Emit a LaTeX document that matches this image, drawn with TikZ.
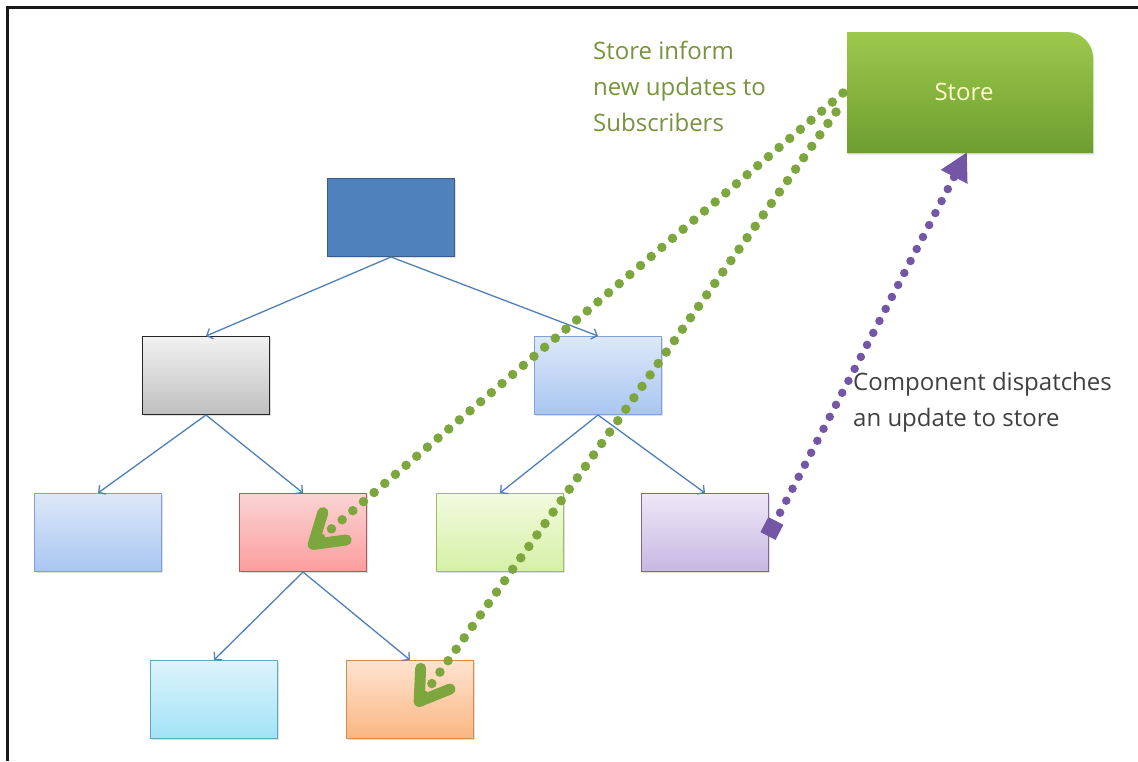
\documentclass[tikz,border=0pt]{standalone}
\usepackage{fontspec}
\setmainfont{Open Sans}
\usetikzlibrary{arrows.meta,shadows}
\definecolor{dkblue}{HTML}{4F81BD}
\definecolor{dkblueb}{HTML}{385D8A}
\definecolor{edgeblue}{HTML}{4F7FB8}
\definecolor{dotgreen}{HTML}{7DA63E}
\definecolor{dotpurple}{HTML}{7356A6}
\definecolor{txtgreen}{HTML}{77933C}
\definecolor{txtgray}{HTML}{404040}
\definecolor{lbtop}{HTML}{DDE8F8}\definecolor{lbbot}{HTML}{A9C6F1}\definecolor{lbdraw}{HTML}{7FA1D6}
\definecolor{rdtop}{HTML}{FAD4D4}\definecolor{rdbot}{HTML}{FC9D9D}\definecolor{rddraw}{HTML}{B05A5A}
\definecolor{grtop}{HTML}{F2FBDF}\definecolor{grbot}{HTML}{D5F0A6}\definecolor{grdraw}{HTML}{9DBB61}
\definecolor{pptop}{HTML}{EEE8F7}\definecolor{ppbot}{HTML}{C7B7E2}\definecolor{ppdraw}{HTML}{7E66A0}
\definecolor{cytop}{HTML}{DDF4FB}\definecolor{cybot}{HTML}{A2E3F8}\definecolor{cydraw}{HTML}{5FA8BE}
\definecolor{ortop}{HTML}{FEE3CF}\definecolor{orbot}{HTML}{FBB681}\definecolor{ordraw}{HTML}{D98B4A}
\definecolor{sttop}{HTML}{9CC84B}\definecolor{stbot}{HTML}{6E9E30}
\tikzset{
  box/.style={draw, line width=1pt, minimum width=127pt, minimum height=78pt, inner sep=0pt, anchor=north west,
    drop shadow={shadow xshift=1pt, shadow yshift=-1.5pt, opacity=0.25}},
  edge/.style={draw=edgeblue, line width=1.3pt, -{Straight Barb[length=5pt,width=11pt,line width=1.3pt]}},
  gdots/.style={draw=dotgreen, line width=9.5pt, line cap=round, dash pattern=on 0pt off 14pt,
    -{Straight Barb[length=28pt,width=36pt,line width=11pt,round,sep=0pt]}},
  pdots/.style={draw=dotpurple, line width=8.5pt, line cap=round, dash pattern=on 0pt off 13.5pt,
    {Square[length=17pt,width=17pt,fill=dotpurple]}-{Triangle[length=28pt,width=28pt,fill=dotpurple]}},
  lbl/.style={font=\fontsize{24}{36}\selectfont, align=left, anchor=north west, inner sep=0pt}
}
\begin{document}
\begin{tikzpicture}[x=1pt,y=-1pt]
\useasboundingbox (0,0) rectangle (1138,761);
% frame
\draw[line width=3pt, black!90] (7,761) -- (7,7) -- (1138,7);
% boxes
\node[box, fill=dkblue, draw=dkblueb] (root) at (327,178) {};
\node[box, draw=black!85, top color=white!95!black, bottom color=black!25] (gray) at (142,336) {};
\node[box, draw=lbdraw, top color=lbtop, bottom color=lbbot] (lblue) at (534,336) {};
\node[box, draw=lbdraw, top color=lbtop, bottom color=lbbot] (blue) at (34,493) {};
\node[box, draw=rddraw, top color=rdtop, bottom color=rdbot] (red) at (239,493) {};
\node[box, draw=grdraw, top color=grtop, bottom color=grbot] (green) at (436,493) {};
\node[box, draw=ppdraw, top color=pptop, bottom color=ppbot] (purple) at (641,493) {};
\node[box, draw=cydraw, top color=cytop, bottom color=cybot] (cyanb) at (150,660) {};
\node[box, draw=ordraw, top color=ortop, bottom color=orbot] (orangeb) at (346,660) {};
% store
\shade[top color=sttop, bottom color=stbot,
  drop shadow={shadow xshift=1pt, shadow yshift=-1.5pt, opacity=0.25}]
  (847,32) -- (1067,32) arc[start angle=-90,end angle=0,radius=26] -- (1093,153) -- (847,153) -- cycle;
\node[font=\fontsize{24}{28}\selectfont, text=white!80!yellow, inner sep=0pt] (store) at (964,92) {Store};
\coordinate (storeL1) at (843,93);
\coordinate (storeL2) at (836,112);
\coordinate (storeB) at (967,152);
% tree edges
\draw[edge] (root.south) -- (gray.north);
\draw[edge] (root.south) -- (lblue.north);
\draw[edge] (gray.south) -- (blue.north);
\draw[edge] (gray.south) -- (red.north);
\draw[edge] (lblue.south) -- (green.north);
\draw[edge] (lblue.south) -- (purple.north);
\draw[edge] (red.south) -- (cyanb.north);
\draw[edge] (red.south) -- (orangeb.north);
% dotted arrows
\coordinate (redT) at (309,548);
\coordinate (orT) at (416,706);
\coordinate (purS) at (768,536);
\draw[gdots] (storeL1) -- (redT);
\draw[gdots] (storeL2) -- (orT);
\draw[pdots] (purS) -- (storeB);
% labels
\node[lbl, text=txtgreen] (t1) at (593,41) {Store inform\\new updates to\\Subscribers};
\node[lbl, text=txtgray] (t2) at (853,372) {Component dispatches\\an update to store};
\end{tikzpicture}
\end{document}
